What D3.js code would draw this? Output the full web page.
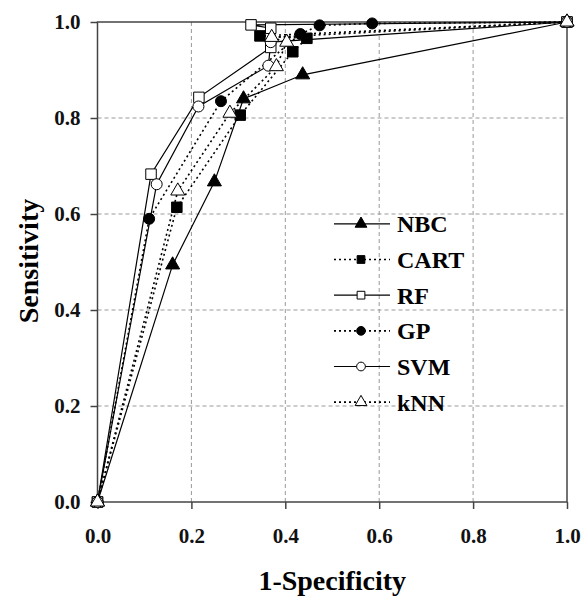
<!DOCTYPE html>
<html>
<head>
<meta charset="utf-8">
<script src="https://cdn.jsdelivr.net/npm/d3@7"></script>
<style>
  body { margin: 0; background: #fff; }
  svg text { font-family: "Liberation Serif", "Times New Roman", serif !important; font-weight: bold; }
</style>
</head>
<body>
<div id="chart"></div>
<script>
// ROC points: [1-specificity, sensitivity]
const nbc  = [[0,0],[0.16,0.494],[0.249,0.667],[0.311,0.84],[0.437,0.89],[1,1]];
const cart = [[0,0],[0.169,0.614],[0.304,0.806],[0.416,0.938],[0.446,0.966],[0.346,0.971],[1,1]];
const rf   = [[0,0],[0.114,0.683],[0.216,0.843],[0.369,0.947],[0.369,0.987],[0.327,0.994],[1,1]];
const gp   = [[0,0],[0.11,0.59],[0.263,0.835],[0.432,0.975],[0.473,0.993],[0.585,0.997],[1,1]];
const svm  = [[0,0],[0.126,0.662],[0.215,0.824],[0.364,0.909],[0.369,0.958],[1,1]];
const knn  = [[0,0],[0.171,0.648],[0.282,0.81],[0.381,0.907],[0.403,0.958],[0.371,0.968],[1,1]];

const seriesNames = ["NBC", "CART", "RF", "GP", "SVM", "kNN"];
const tickValues = [0, 0.2, 0.4, 0.6, 0.8, 1.0];

const series = [
    {name: "NBC",  data: nbc,  shape: d3.symbolTriangle, filled: true,  dotted: false},
    {name: "CART", data: cart, shape: d3.symbolSquare,   filled: true,  dotted: true},
    {name: "RF",   data: rf,   shape: d3.symbolSquare,   filled: false, dotted: false},
    {name: "GP",   data: gp,   shape: d3.symbolCircle,   filled: true,  dotted: true},
    {name: "SVM",  data: svm,  shape: d3.symbolCircle,   filled: false, dotted: false},
    {name: "kNN",  data: knn,  shape: d3.symbolTriangle, filled: false, dotted: true}
];

const W = 582, H = 596;
const margin = {top: 22, right: 15, bottom: 94, left: 97.5};
const width = W - margin.left - margin.right;
const height = H - margin.top - margin.bottom;

const svg = d3.select("#chart").append("svg")
    .attr("width", W)
    .attr("height", H);

const g = svg.append("g")
    .attr("transform", "translate(" + margin.left + "," + margin.top + ")");

const x = d3.scaleLinear().domain([0, 1]).range([0, width]);
const y = d3.scaleLinear().domain([0, 1]).range([height, 0]);

// dashed grid
g.append("g").selectAll("line.gx")
    .data(tickValues.slice(1, -1))
    .enter().append("line")
    .attr("x1", d => x(d)).attr("x2", d => x(d))
    .attr("y1", 0).attr("y2", height)
    .attr("stroke", "#999").attr("stroke-width", 1)
    .attr("stroke-dasharray", "4,3");

g.append("g").selectAll("line.gy")
    .data(tickValues.slice(1, -1))
    .enter().append("line")
    .attr("x1", 0).attr("x2", width)
    .attr("y1", d => y(d)).attr("y2", d => y(d))
    .attr("stroke", "#999").attr("stroke-width", 1)
    .attr("stroke-dasharray", "4,3");

// frame
g.append("rect")
    .attr("width", width).attr("height", height)
    .attr("fill", "none").attr("stroke", "#444").attr("stroke-width", 1.5);

const fmt = d3.format(".1f");

const xAxis = g.append("g")
    .attr("transform", "translate(0," + height + ")")
    .call(d3.axisBottom(x).tickValues(tickValues).tickFormat(fmt).tickSize(7).tickPadding(19));

const yAxis = g.append("g")
    .call(d3.axisLeft(y).tickValues(tickValues).tickFormat(fmt).tickSize(7).tickPadding(10));

[xAxis, yAxis].forEach(ax => {
    ax.attr("font-family", null).attr("font-size", null);
    ax.select(".domain").remove();
    ax.selectAll(".tick line").attr("stroke", "#444").attr("stroke-width", 1.5);
    ax.selectAll(".tick text")
        .attr("fill", "#111")
        .style("font-size", "21px");
});

// lines
const line = d3.line().x(d => x(d[0])).y(d => y(d[1]));

g.selectAll("path.roc")
    .data(series)
    .enter().append("path")
    .attr("class", "roc")
    .attr("d", d => line(d.data))
    .attr("fill", "none")
    .attr("stroke", "#000")
    .attr("stroke-width", d => d.dotted ? 1.6 : 1.2)
    .attr("stroke-dasharray", d => d.dotted ? "2,3" : null);

// markers
const sizeOf = s => s === d3.symbolTriangle ? 85 : (s === d3.symbolSquare ? 110 : 95);

series.forEach(s => {
    g.selectAll(null)
        .data(s.data)
        .enter().append("path")
        .attr("transform", d => "translate(" + x(d[0]) + "," + y(d[1]) + ")")
        .attr("d", d3.symbol().type(s.shape).size(sizeOf(s.shape)))
        .attr("fill", s.filled ? "#000" : "#fff")
        .attr("stroke", "#000")
        .attr("stroke-width", 1);
});

// legend
const legend = svg.append("g");
const legendRow = d3.scaleBand().domain(seriesNames).range([206, 420]);

series.forEach(s => {
    const cy = legendRow(s.name) + legendRow.bandwidth() / 2;
    const row = legend.append("g").attr("transform", "translate(0," + cy + ")");
    row.append("line")
        .attr("x1", 334).attr("x2", 390)
        .attr("stroke", "#000").attr("stroke-width", s.dotted ? 1.6 : 1.2)
        .attr("stroke-dasharray", s.dotted ? "2,3" : null);
    row.append("path")
        .attr("transform", "translate(361,0)")
        .attr("d", d3.symbol().type(s.shape).size(60))
        .attr("fill", s.filled ? "#000" : "#fff")
        .attr("stroke", "#000");
    row.append("text")
        .attr("x", 397).attr("y", 0)
        .attr("dy", "0.35em")
        .style("font-size", "24px")
        .text(s.name);
});

// axis titles
svg.append("text")
    .attr("x", margin.left + width / 2)
    .attr("y", 590)
    .attr("text-anchor", "middle")
    .style("font-size", "28px")
    .text("1-Specificity");

svg.append("text")
    .attr("transform", "translate(38,261) rotate(-90)")
    .attr("text-anchor", "middle")
    .style("font-size", "28px")
    .text("Sensitivity");
</script>
</body>
</html>
